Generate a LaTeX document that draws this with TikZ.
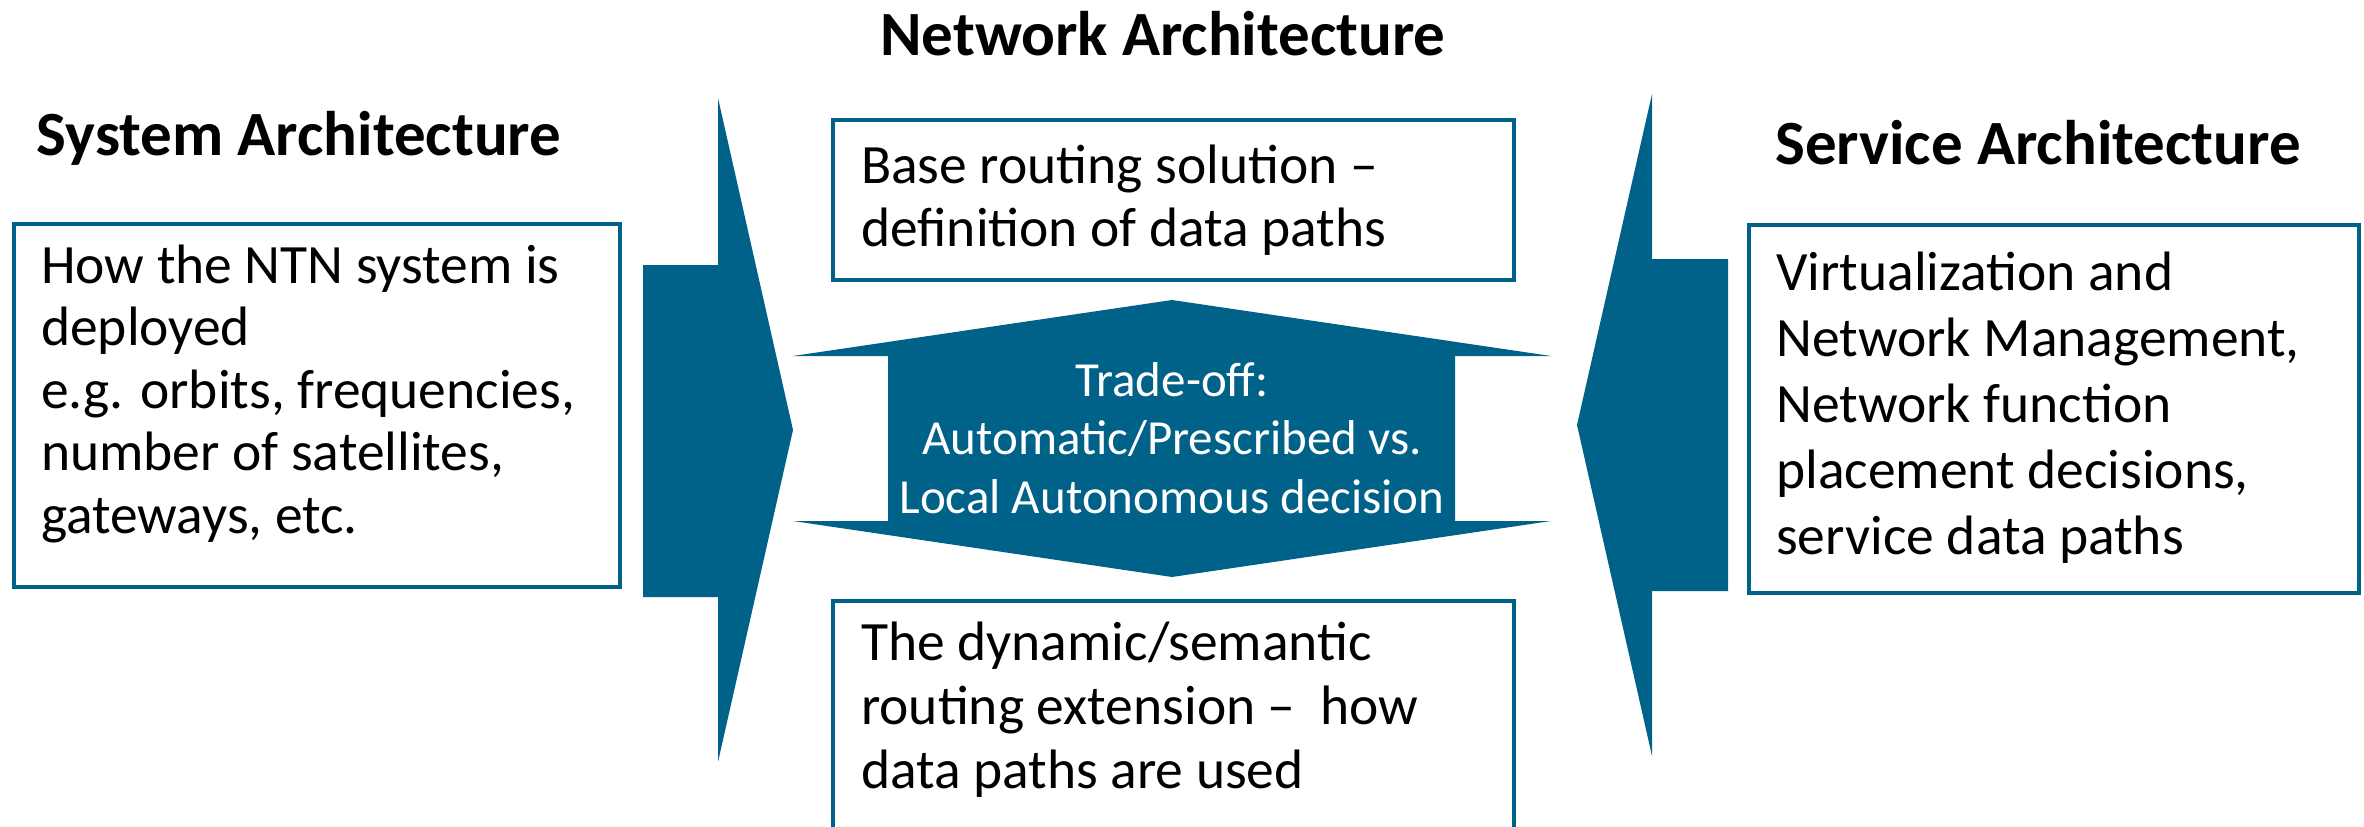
\documentclass[tikz,border=0pt]{standalone}
\usepackage{fontspec}
\setmainfont{Carlito}
\definecolor{ntnblue}{RGB}{0,98,137}
\tikzset{
  frame/.style={draw=ntnblue, line width=3.5pt, rectangle, inner sep=0pt, anchor=north west},
  bodytext/.style={anchor=base west, inner sep=0pt, text=black, font=\fontsize{55.5}{65}\selectfont},
  centertext/.style={anchor=base, inner sep=0pt, text=white, font=\fontsize{49}{58}\selectfont},
  titletext/.style={anchor=base, inner sep=0pt, text=black, font=\fontsize{63}{74}\selectfont\bfseries},
  bigarrow/.style={fill=ntnblue, draw=none}
}
\newcommand{\linesbox}[2]{\parbox[t]{660pt}{\raggedright\setlength{\baselineskip}{#1}#2\par}}
\begin{document}
\begin{tikzpicture}[x=1pt, y=-1pt]
\useasboundingbox (0,0) rectangle (2364,827);
\clip (0,0) rectangle (2364,827);
\fill[white] (0,0) rectangle (2364,827);

% titles
\node[titletext] (tnet) at (1163,55) {Network Architecture};
\node[titletext] (tsys) at (299,155) {System Architecture};
\node[titletext] (tsrv) at (2038,164) {Service Architecture};

% big arrows
\path[bigarrow] (643,265) -- (718,265) -- (718,98) -- (793,430) -- (718,762) -- (718,597) -- (643,597) -- cycle;
\path[bigarrow] (1728,259) -- (1652,259) -- (1652,94) -- (1577,425) -- (1652,756) -- (1652,591) -- (1728,591) -- cycle;
\path[bigarrow] (1172,300) -- (1551,356) -- (1455,356) -- (1455,521) -- (1551,521) -- (1172,577)
  -- (793,521) -- (888,521) -- (888,356) -- (793,356) -- cycle;

% boxes
\node[frame, minimum width=606pt, minimum height=363pt] (sysbox) at (12,222) {};
\node[frame, minimum width=681pt, minimum height=160pt] (basebox) at (831,118) {};
\node[frame, minimum width=681pt, minimum height=320pt] (dynbox) at (831,599) {};
\node[frame, minimum width=610pt, minimum height=368pt] (srvbox) at (1747,223) {};

% texts
\node[bodytext] (systxt) at (41,283) {\linesbox{62.5pt}{How the NTN system is\\deployed\\e.g. orbits, frequencies,\\number of satellites,\\gateways, etc.}};
\node[bodytext] (basetxt) at (861,183) {\linesbox{63pt}{Base routing solution –\\definition of data paths}};
\node[bodytext] (dyntxt) at (861,660) {\linesbox{64pt}{The dynamic/semantic\\routing extension –\ \ how\\data paths are used}};
\node[bodytext] (srvtxt) at (1776,290) {\linesbox{66pt}{Virtualization and\\Network Management,\\Network function\\placement decisions,\\service data paths}};
\node[centertext] (trade1) at (1172,396) {Trade-off:};
\node[centertext] (trade2) at (1172,454) {Automatic/Prescribed vs.};
\node[centertext] (trade3) at (1172,513) {Local Autonomous decision};
\end{tikzpicture}
\end{document}
